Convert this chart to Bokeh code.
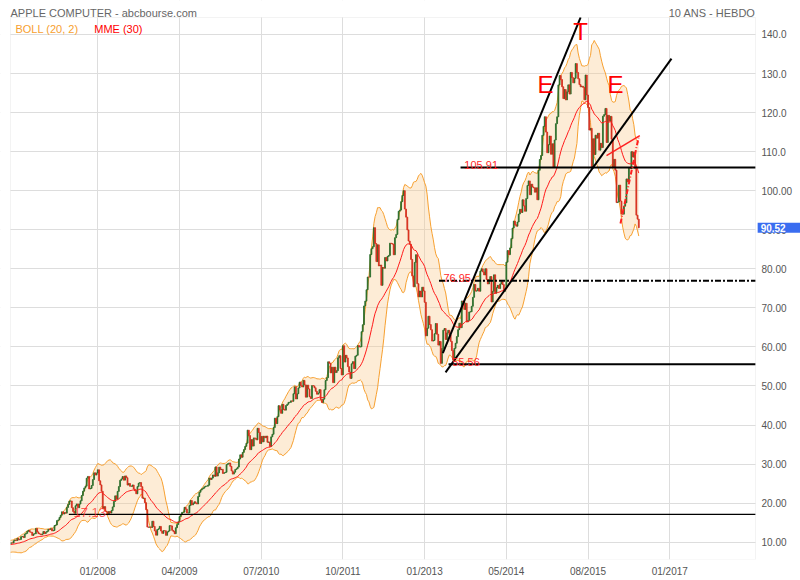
import numpy as np
import pandas as pd
from bokeh.plotting import figure
from bokeh.models import Range1d, FixedTicker, Label, BoxAnnotation
from bokeh.embed import file_html
from bokeh.resources import INLINE

# ---------------- data (weekly closes, split adjusted, May 2006 -> May 2016) -------------
closes_2006 = [10.27, 9.67, 9.21, 9.04, 8.89, 8.43, 8.23, 8.37, 8.19, 7.91, 7.47, 8.67, 9.71,
               9.76, 9.09, 9.70, 9.83, 9.77, 10.36, 10.59, 10.43, 11.00, 10.60, 10.71, 11.41, 11.49,
               11.19, 12.07, 12.26, 12.79, 13.04, 12.61, 12.53, 11.74, 12.11]
closes_2007 = [12.15, 13.51, 12.64, 12.20, 12.11, 11.90, 12.11, 12.73, 12.20, 12.57, 12.80, 13.31, 13.27,
               13.47, 12.89, 13.00, 14.27, 14.40, 15.53, 15.71, 16.34, 16.91, 17.79, 17.21, 17.57, 17.43,
               18.90, 19.67, 20.54, 20.56, 18.84, 17.86, 17.44, 19.33, 19.79, 18.83, 19.77, 20.60, 21.93,
               23.07, 23.89, 24.34, 26.39, 26.84, 23.63, 23.77, 24.50, 26.03, 27.76, 27.20, 27.70, 28.54]
closes_2008 = [25.72, 24.67, 23.05, 18.57, 19.11, 17.93, 17.80, 17.07, 17.86, 17.47, 18.09, 19.04, 20.43,
               21.87, 21.01, 23.00, 24.24, 25.84, 26.21, 26.80, 25.89, 26.97, 26.51, 24.63, 25.04, 24.30,
               24.30, 24.65, 23.60, 23.16, 22.39, 24.23, 25.10, 25.26, 24.21, 21.27, 21.30, 20.13, 18.31,
               13.87, 13.83, 13.91, 13.77, 15.37, 14.03, 12.89, 11.80, 13.24, 13.43, 14.04, 12.86, 12.26]
closes_2009 = [12.96, 12.94, 11.76, 12.63, 12.87, 14.24, 14.17, 13.03, 12.76, 12.19, 13.70, 14.51, 15.21,
               16.57, 17.09, 17.63, 17.70, 18.93, 18.46, 17.49, 17.50, 19.40, 20.67, 19.57, 19.93, 20.34,
               20.00, 19.79, 21.69, 22.79, 23.34, 23.64, 23.83, 24.17, 24.33, 24.33, 24.60, 26.43, 26.06,
               26.41, 27.21, 26.87, 29.27, 26.93, 27.76, 29.21, 28.56, 28.66, 27.61, 27.81, 27.91, 29.86]
closes_2010 = [30.10, 30.28, 29.42, 28.27, 27.44, 27.93, 28.63, 28.81, 29.23, 31.28, 32.37, 31.75, 32.99,
               33.71, 34.54, 35.34, 38.69, 37.30, 33.70, 36.26, 34.61, 36.70, 36.57, 36.21, 39.16, 38.10,
               35.27, 37.09, 35.70, 37.13, 36.75, 37.16, 35.59, 35.66, 34.51, 36.97, 37.63, 39.34, 41.76,
               40.36, 42.14, 44.96, 43.93, 43.00, 45.30, 44.00, 43.81, 45.00, 45.34, 45.80, 45.80, 46.19, 46.08]
closes_2011 = [48.01, 49.79, 46.67, 48.01, 49.50, 50.98, 50.09, 49.74, 51.43, 50.28, 47.14, 50.21,
               49.23, 47.26, 46.79, 50.10, 50.01, 49.53, 48.64, 47.89, 48.20, 49.06, 46.56, 45.76, 46.63,
               49.04, 51.39, 52.13, 56.19, 55.79, 53.37, 54.80, 50.86, 54.80, 53.44, 53.93, 57.21, 57.76, 54.47,
               52.83, 60.29, 56.13, 57.85, 57.17, 54.94, 53.56, 51.94, 55.67, 56.23, 54.43, 57.63, 57.86]
closes_2012 = [60.34, 59.97, 60.04, 63.90, 65.67, 70.49, 71.73, 74.63, 77.89, 77.88, 83.66, 85.16, 85.65,
               90.53, 86.46, 81.85, 86.14, 80.75, 80.96, 75.77, 80.33, 80.14, 82.90, 82.01, 83.16, 83.43,
               86.56, 86.43, 86.33, 83.60, 87.96, 88.81, 92.59, 94.74, 95.03, 97.20, 98.76, 100.01, 95.30,
               93.23, 89.96, 87.11, 86.29, 82.40, 78.16, 75.39, 81.64, 83.61, 76.18, 72.83, 74.31, 72.80]
closes_2013 = [75.29, 74.33, 71.43, 62.84, 64.80, 67.85, 65.74, 64.40, 61.50, 61.67, 63.38, 65.99, 63.24,
               60.46, 61.40, 55.79, 59.60, 64.28, 64.71, 61.90, 63.59, 64.25, 63.11, 61.44, 59.07, 56.65,
               59.63, 60.93, 62.64, 64.41, 66.07, 64.92, 71.76, 71.57, 69.60, 71.17, 66.41, 66.77, 68.96,
               69.00, 70.40, 72.70, 75.99, 74.29, 74.37, 75.00, 74.26, 79.44, 80.00, 79.20, 78.43, 80.01]
closes_2014 = [77.28, 76.13, 77.24, 78.01, 71.51, 74.24, 78.46, 73.77, 75.18, 75.77, 74.96, 76.13, 76.70,
               75.97, 74.23, 74.99, 81.70, 84.66, 83.64, 85.36, 87.73, 90.43, 92.22, 91.28, 90.91, 91.98,
               94.03, 95.22, 94.43, 97.67, 96.13, 94.74, 97.98, 101.32, 102.50, 98.97, 101.66, 100.96, 100.75,
               99.62, 100.73, 97.67, 105.22, 108.00, 109.01, 114.18, 116.47, 118.93, 115.00, 109.73, 111.78, 113.99]
closes_2015 = [109.33, 112.01, 105.99, 112.98, 117.16, 118.93, 127.08, 129.50, 128.46, 126.60, 123.59, 125.90, 123.25,
               125.32, 127.10, 124.75, 130.28, 128.95, 127.62, 128.77, 132.54, 130.28, 128.65, 127.17, 126.60, 126.75,
               126.44, 123.28, 129.62, 124.50, 121.30, 115.52, 115.96, 105.76, 113.29, 109.27, 114.21, 113.45, 114.71,
               110.38, 112.12, 111.04, 119.08, 119.50, 121.06, 112.34, 119.30, 117.81, 119.03, 113.18, 106.03, 108.03]
closes_2016 = [105.26, 96.96, 97.13, 101.42, 97.34, 94.02, 93.99, 96.04, 96.91, 103.01, 102.26, 105.92, 105.67,
               109.99, 108.66, 109.85, 105.68, 93.74, 92.72, 90.52]

# horizontal support / resistance levels and where they start (week index)
levels = [105.91, 76.95, 55.56, 17.13]
level_labels = ["105.91", "76.95", "55.56", "17.13"]
level_start = [379.0, 361.6, 369.3, 62.6]

# black trend lines (week index, price)
trend_x0 = [364.7, 366.9]
trend_y0 = [58.4, 53.5]
trend_x1 = [476.0, 549.4]
trend_y1 = [144.35, 133.8]

# red neckline and red dash-dot line
neck_x0 = [496.9]
neck_y0 = [109.0]
neck_x1 = [523.8]
neck_y1 = [114.1]
proj_x0 = [508.2]
proj_y0 = [91.6]
proj_x1 = [522.8]
proj_y1 = [113.6]

# pattern letters
pattern_text = ["E", "T", "E"]
pattern_x = [447.6, 475.9, 504.2]
pattern_y = [127.3, 140.8, 127.3]

header_left = "APPLE COMPUTER - abcbourse.com"
header_right = "10 ANS - HEBDO"
x_tick_labels = ["01/2008", "04/2009", "07/2010", "10/2011", "01/2013", "05/2014", "08/2015", "01/2017"]
y_ticks = [10, 20, 30, 40, 50, 60, 70, 80, 90, 100, 110, 120, 130, 140]
y_tick_labels = ["10.00", "20.00", "30.00", "40.00", "50.00", "60.00", "70.00", "80.00", "90.00",
                 "100.00", "110.0", "120.0", "130.0", "140.0"]
last_price = 90.52

# ---------------- derived series --------------------------------------------------------
close = np.array(closes_2006 + closes_2007 + closes_2008 + closes_2009 + closes_2010 + closes_2011 +
                 closes_2012 + closes_2013 + closes_2014 + closes_2015 + closes_2016)
n = len(close)
idx = np.arange(n)
opn = np.concatenate([[close[0]], close[:-1]])
s = pd.Series(close)
mid = s.rolling(20, min_periods=8).mean()
sd = s.rolling(20, min_periods=8).std(ddof=0)
upper = (mid + 2 * sd).to_numpy()
lower = (mid - 2 * sd).to_numpy()
ema = s.ewm(span=30, adjust=False).mean().to_numpy()

FONT = "Liberation Sans"
# plot box (in data units) inside a frame that covers the whole canvas above the x axis
BOX_L, BOX_R, BOX_B, BOX_T = 15.48, 617.26, 5.57, 144.35

# only the weeks inside the plot box are drawn (earlier weeks only warm up the indicators)
vis = idx >= 15
up = (close >= opn) & vis & (idx >= 16)
dn = (close < opn) & vis & (idx >= 16)

p = figure(width=800, height=580, x_range=Range1d(7.40, 653.61), y_range=Range1d(BOX_B, 148.70),
           y_axis_location="right", output_backend="svg", toolbar_location=None,
           min_border_left=0, min_border_right=0, min_border_top=0, min_border_bottom=21)
p.background_fill_color = "white"
p.border_fill_color = "white"
p.outline_line_color = None
p.grid.grid_line_color = "#dddddd"

tick_pos = [86 + 66 * k for k in range(len(x_tick_labels))]
p.xaxis.ticker = FixedTicker(ticks=tick_pos)
p.xaxis.major_label_overrides = {t: l for t, l in zip(tick_pos, x_tick_labels)}
p.yaxis.ticker = FixedTicker(ticks=y_ticks)
p.yaxis.major_label_overrides = {t: l for t, l in zip(y_ticks, y_tick_labels)}
p.yaxis.fixed_location = BOX_R
for ax in (p.xaxis, p.yaxis):
    ax.axis_line_color = None
    ax.major_tick_line_color = None
    ax.minor_tick_line_color = None
    ax.major_tick_out = 0
    ax.major_tick_in = 0
    ax.major_label_text_font = FONT
    ax.major_label_text_font_size = "10px"
    ax.major_label_text_color = "#555555"
p.yaxis.major_label_standoff = 6
p.xaxis.major_label_standoff = 6

# white masks outside the plot box (over the grid only)
for kw in (dict(left=BOX_R), dict(bottom=BOX_T), dict(right=BOX_L)):
    p.add_layout(BoxAnnotation(level="underlay", fill_color="white", fill_alpha=1.0,
                               line_color=None, **kw))

bx = np.concatenate([[BOX_L], idx[vis][1:]]).astype(float)
bl = np.concatenate([[np.interp(BOX_L, idx, lower)], lower[vis][1:]])
bu = np.concatenate([[np.interp(BOX_L, idx, upper)], upper[vis][1:]])
be = np.concatenate([[np.interp(BOX_L, idx, ema)], ema[vis][1:]])
p.varea(x=bx, y1=bl, y2=bu, fill_color="#f9c98a", fill_alpha=0.35)
p.line(bx, bu, line_color="#f7a030", line_width=1)
p.line(bx, bl, line_color="#f7a030", line_width=1)

top = np.maximum(opn, close)
bot = np.minimum(opn, close)
p.vbar(x=idx[up], top=top[up], bottom=bot[up], width=0.7, fill_color="#328032",
       line_color="#236623", line_width=0.8)
p.vbar(x=idx[dn], top=top[dn], bottom=bot[dn], width=0.7, fill_color="#e8301c",
       line_color="#d02818", line_width=0.8)
p.line(bx, be, line_color="#ff1a1a", line_width=1)

# levels (run to the right edge of the plot box)
solid = [0, 2]
p.segment(x0=[level_start[i] for i in solid], y0=[levels[i] for i in solid],
          x1=[BOX_R] * 2, y1=[levels[i] for i in solid], line_color="black", line_width=2)
p.segment(x0=[level_start[1]], y0=[levels[1]], x1=[BOX_R], y1=[levels[1]],
          line_color="black", line_width=2, line_dash="6 2 2 2")
p.segment(x0=[level_start[3]], y0=[levels[3]], x1=[BOX_R], y1=[levels[3]],
          line_color="black", line_width=1.3)

p.segment(x0=trend_x0, y0=trend_y0, x1=trend_x1, y1=trend_y1, line_color="black", line_width=2)
p.segment(x0=neck_x0, y0=neck_y0, x1=neck_x1, y1=neck_y1, line_color="#ff2020", line_width=1.5)
p.segment(x0=proj_x0, y0=proj_y0, x1=proj_x1, y1=proj_y1, line_color="#ff2020", line_width=2,
          line_dash="5 2 1 2")

# plot box border
p.add_layout(BoxAnnotation(left=BOX_L, right=BOX_R, bottom=BOX_B, top=BOX_T, fill_alpha=0.0,
                           line_color="#d6d6d6", line_width=1))

# level labels
lab_x = [382.1, 365.2, 372.3, 66.4]
for i, t in enumerate(level_labels):
    big = (i == 3)
    p.add_layout(Label(x=lab_x[i], y=levels[i] + (0.6 if not big else 0.4), text=t,
                       text_font=FONT, text_font_size="13px" if big else "11px",
                       text_color="#ff2a2a", text_alpha=0.75 if big else 1.0,
                       text_baseline="alphabetic", text_align="left"))

for t, x, y in zip(pattern_text, pattern_x, pattern_y):
    p.add_layout(Label(x=x, y=y, text=t, text_font=FONT, text_font_size="24px", text_color="#ff0000",
                       text_align="center", text_baseline="middle"))

# header and legend texts
p.add_layout(Label(x=BOX_L, y=145.45, text=header_left, text_font=FONT, text_font_size="11px",
                   text_color="#666666", text_baseline="alphabetic", text_align="left"))
p.add_layout(Label(x=BOX_R, y=145.45, text=header_right, text_font=FONT, text_font_size="11px",
                   text_color="#666666", text_baseline="alphabetic", text_align="right"))
p.add_layout(Label(x=19.5, y=141.46, text="BOLL (20, 2)", text_font=FONT, text_font_size="11px",
                   text_color="#f7a030", text_baseline="alphabetic"))
p.add_layout(Label(x=83.1, y=141.46, text="MME (30)", text_font=FONT, text_font_size="11px",
                   text_color="#ff0000", text_baseline="alphabetic"))

# last price tag on the price axis
p.add_layout(Label(x=619.0, y=last_price, text="%.2f" % last_price, text_font=FONT,
                   text_font_size="10px", text_font_style="bold", text_color="white",
                   text_baseline="middle", background_fill_color="#3a6df0",
                   padding=dict(left=3, right=20, top=1, bottom=1)))

open("out.html", "w").write(file_html(p, INLINE))
